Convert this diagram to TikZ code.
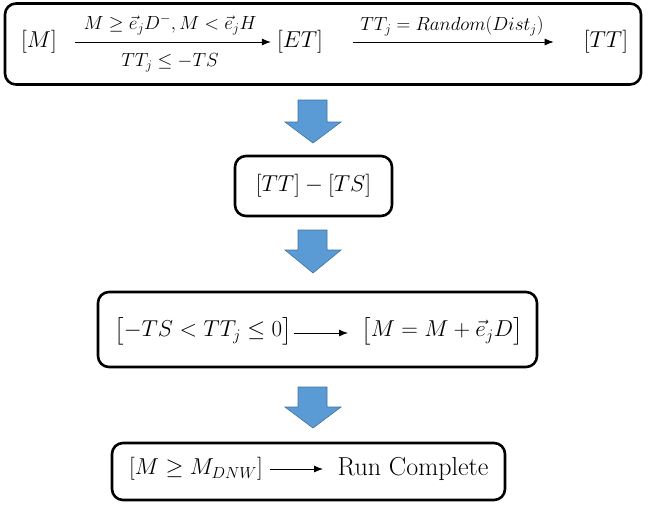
\RequirePackage{fix-cm}
\documentclass[tikz,border=0pt]{standalone}
\usepackage{amsmath,amssymb}
\usetikzlibrary{arrows.meta}
\begin{document}
\begin{tikzpicture}[x=1pt,y=1pt,
  box/.style={draw=black, line width=2.6pt, rounded corners=11pt, inner sep=0pt},
  txt/.style={inner sep=0pt, font=\fontsize{23}{27}\selectfont},
  lbl/.style={inner sep=0pt, font=\fontsize{19}{23}\selectfont},
  conn/.style={line width=0.9pt, -{Latex[length=9pt,width=7pt]}},
  blockarrow/.style={fill=blueA, draw=blueB, line width=0.6pt}
]
\definecolor{blueA}{HTML}{5B9BD5}
\definecolor{blueB}{HTML}{41719C}
\useasboundingbox (0,0) rectangle (648,-504);

% Box 1
\node[box, minimum width=636pt, minimum height=81pt] (b1) at (323,-44) {};
\node[txt] (m1) at (39,-42) {$[M]$};
\node[txt] (et) at (300,-42) {$[ET]$};
\node[txt] (tt1) at (606,-42) {$[TT]$};
\draw[conn, shorten <=18pt, shorten >=6pt] (m1.east) -- (et.west);
\draw[conn, shorten <=30pt, shorten >=30pt] (et.east) -- (tt1.west);
\node[lbl] (l1) at (170,-25) {$M \geq \vec{e}_{j}D^{-}, M < \vec{e}_{j}H$};
\node[lbl] (l2) at (170,-63) {$TT_j \leq -TS$};
\node[lbl] (l3) at (452,-26) {$TT_j = Random(Dist_j)$};

% Arrow 1
\draw[blockarrow] (298,-100) -- (327,-100) -- (327,-122) -- (341,-122) -- (313,-143) -- (285,-122) -- (298,-122) -- cycle;

% Box 2
\node[box, minimum width=157pt, minimum height=60pt] (b2) at (313.5,-186) {};
\node[txt] (ttts) at (313.5,-186) {$[TT]-[TS]$};

% Arrow 2
\draw[blockarrow] (298,-230) -- (327,-230) -- (327,-250) -- (341,-250) -- (313,-273) -- (285,-250) -- (298,-250) -- cycle;

% Box 3
\node[box, minimum width=439pt, minimum height=75pt] (b3) at (317.5,-329.5) {};
\node[txt] (c3) at (203,-331) {$\bigl[-TS < TT_j \leq 0\bigr]$};
\node[txt] (u3) at (442,-331) {$\bigl[M = M + \vec{e}_{j}D\bigr]$};
\draw[conn] (294,-333) coordinate (a3s) -- (348,-333) coordinate (a3e);

% Arrow 3
\draw[blockarrow] (298,-387) -- (327,-387) -- (327,-407) -- (341,-407) -- (313,-428) -- (285,-407) -- (298,-407) -- cycle;

% Box 4
\node[box, minimum width=393pt, minimum height=57pt] (b4) at (308.5,-471.5) {};
\node[txt] (c4) at (196,-469) {$[M \geq M_{DNW}]$};
\node[txt, font=\fontsize{26}{30}\selectfont] (r4) at (413,-469) {Run Complete};
\draw[conn] (270,-469) coordinate (a4s) -- (323,-469) coordinate (a4e);
\end{tikzpicture}
\end{document}
